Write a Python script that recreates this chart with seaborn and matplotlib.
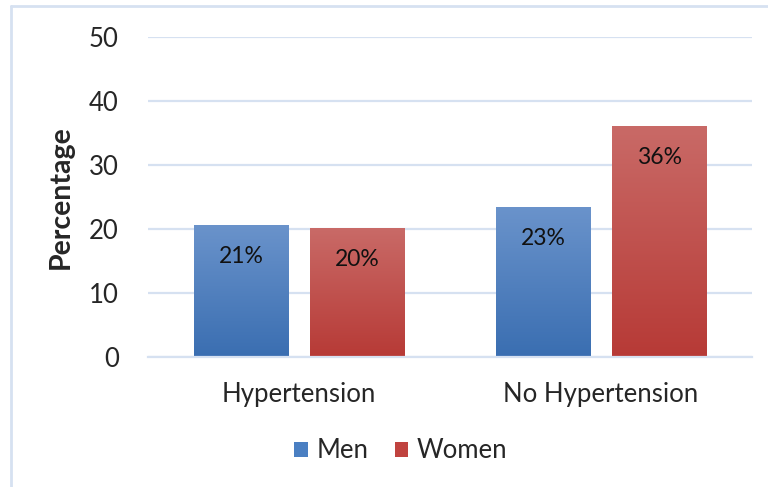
import numpy as np
import pandas as pd
import matplotlib
matplotlib.use("Agg")
import matplotlib.pyplot as plt
import matplotlib.colors as mcolors
from matplotlib.lines import Line2D
from matplotlib.patches import Patch
import seaborn as sns

# Share of participants by hypertension status and sex
categories = ["Hypertension", "No Hypertension"]
groups = ["Men", "Women"]
men_pct = [20.6, 23.4]
women_pct = [20.1, 36.1]
y_ticks = [0, 10, 20, 30, 40, 50]

df = pd.DataFrame({
    "Status": categories * 2,
    "Sex": [groups[0]] * len(categories) + [groups[1]] * len(categories),
    "Percentage": men_pct + women_pct,
})

sns.set_theme(style="white")
plt.rcParams["font.family"] = ["Lato", "DejaVu Sans"]

# light-to-dark vertical gradients for each series (top colour, bottom colour)
gradients = {
    "Men": ("#6a93cb", "#3a6eb1"),
    "Women": ("#c96a67", "#b73a36"),
}
base_colors = {"Men": "#4a7fc2", "Women": "#c0433f"}

fig = plt.figure(figsize=(7.68, 4.87), dpi=100)
ax = fig.add_axes([148 / 768, 1 - 357 / 487, 604 / 768, 320 / 487])

sns.barplot(data=df, x="Status", y="Percentage", hue="Sex", order=categories,
            hue_order=groups, palette=base_colors, width=0.77, gap=0.19,
            ax=ax, legend=False, saturation=1)

ax.set_ylim(0, 50)
ax.set_xlim(-0.5, 1.5)
ax.set_yticks(y_ticks)
ax.set_yticklabels([str(t) for t in y_ticks], fontsize=18.5)
ax.tick_params(axis="x", labelsize=18.5, length=0, pad=18)
ax.tick_params(axis="y", length=0, pad=21)
ax.set_xlabel("")
ax.set_ylabel("Percentage", fontsize=20.5, fontweight="bold", labelpad=11)

grid_color = "#d6e1f1"
ax.yaxis.grid(True, color=grid_color, linewidth=1.6)
ax.set_axisbelow(True)
for side in ["top", "right", "left"]:
    ax.spines[side].set_visible(False)
ax.spines["bottom"].set_color(grid_color)
ax.spines["bottom"].set_linewidth(1.6)

# replace flat fills with vertical gradients and write value labels
values = {"Men": men_pct, "Women": women_pct}
for container, sex in zip(ax.containers, groups):
    top_c, bot_c = gradients[sex]
    cmap = mcolors.LinearSegmentedColormap.from_list(sex, [bot_c, top_c])
    for patch, val in zip(container.patches, values[sex]):
        x0, y0 = patch.get_x(), patch.get_y()
        w, h = patch.get_width(), patch.get_height()
        patch.set_facecolor("none")
        patch.set_edgecolor("none")
        grad = np.linspace(0, 1, 256).reshape(-1, 1)
        im = ax.imshow(grad, cmap=cmap, origin="lower", aspect="auto",
                       extent=[x0, x0 + w, y0, y0 + h], zorder=2)
        im.set_clip_path(patch)
        ax.text(x0 + w / 2, y0 + h - 4.9, f"{val:.0f}%", ha="center",
                va="center", fontsize=16.5, color="#111111", zorder=3)
ax.set_xlim(-0.5, 1.5)
ax.set_ylim(0, 50)

handles = [Patch(facecolor=base_colors[g], edgecolor="none") for g in groups]
fig.legend(handles, groups, loc="center", bbox_to_anchor=(401 / 768, 1 - 451 / 487),
           ncol=2, frameon=False, fontsize=18.5, handlelength=0.52, handleheight=0.52,
           handletextpad=0.35, columnspacing=1.0)

# outer chart-area border
fig.add_artist(Line2D([11 / 768, 11 / 768], [0, 1 - 6 / 487], color=grid_color,
                      linewidth=2, transform=fig.transFigure))
fig.add_artist(Line2D([11 / 768, 1], [1 - 6 / 487, 1 - 6 / 487], color=grid_color,
                      linewidth=2, transform=fig.transFigure))

fig.savefig("out.png", dpi=100)
